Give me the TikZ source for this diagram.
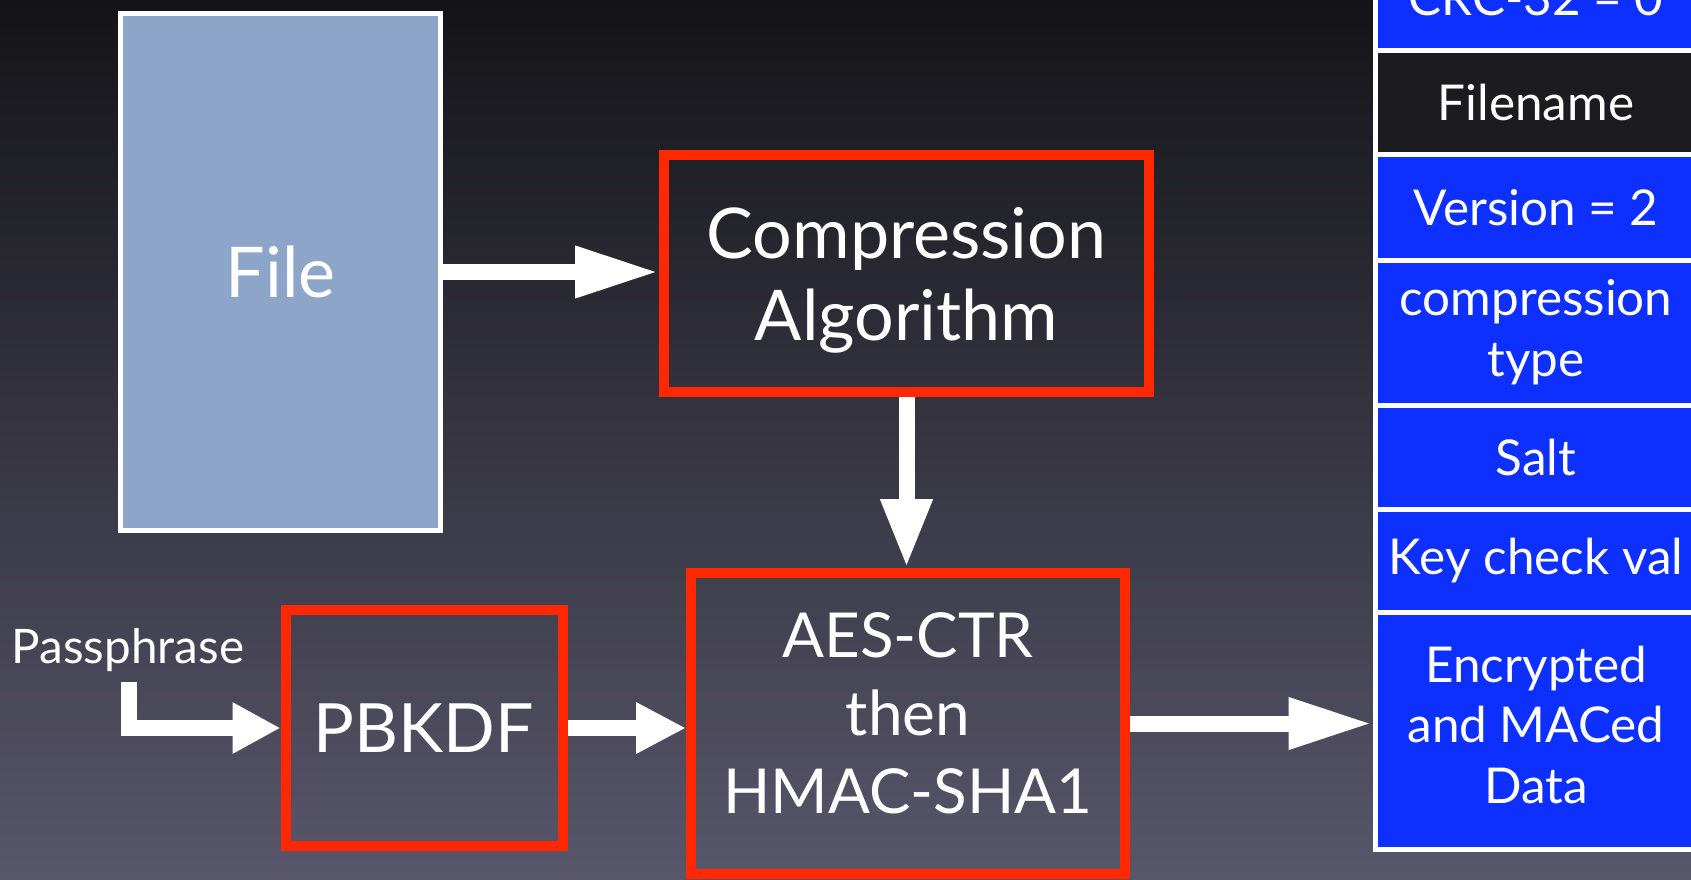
\documentclass[tikz,border=0pt]{standalone}
\usepackage{fontspec}
\setmainfont{Lato}
\usetikzlibrary{arrows.meta}

\definecolor{bgtop}{RGB}{20,20,24}
\definecolor{bgbot}{RGB}{88,86,106}
\definecolor{boxred}{RGB}{255,40,0}
\definecolor{cellblue}{RGB}{14,48,255}
\definecolor{celldark}{RGB}{28,28,32}
\definecolor{filesky}{RGB}{140,165,200}

\begin{document}
\begin{tikzpicture}[x=0.5pt, y=-0.5pt,
        every node/.style={text=white, align=center},
        stage/.style={draw=boxred, line width=5pt, font=\fontsize{35}{41}\selectfont},
        cell/.style={draw=white, line width=2.5pt, fill=cellblue, inner xsep=1pt, minimum width=161pt, font=\fontsize{24.7}{30.3}\selectfont},
        flow/.style={draw=white, line width=8pt, -{Triangle[length=#1, width=24pt]}},
        flow/.default=42pt]

        \useasboundingbox (0,0) rectangle (1691,879);
        \clip (0,0) rectangle (1691,879);
        \shade[top color=bgtop, bottom color=bgbot] (0,0) rectangle (1691,879);

        \node[draw=white, line width=2.5pt, fill=filesky, minimum width=160pt, minimum height=258.5pt, font=\fontsize{35}{41}\selectfont] (file) at (280.75,272) {File};
        \node[stage, text depth=0pt, minimum width=242.5pt, minimum height=118.5pt] (comp) at (906.5,273.5) {Compression\\Algorithm};
        \node[stage, minimum width=138.5pt, minimum height=118pt, font=\fontsize{34}{40}\selectfont] (pbkdf) at (424,728) {PBKDF};
        \node[stage, text depth=10.8pt, minimum width=217pt, minimum height=150.5pt, font=\fontsize{31}{39}\selectfont] (aes) at (908,723.5) {AES-CTR\\then\\HMAC-SHA1};

        \node[anchor=base, font=\fontsize{23.8}{28}\selectfont] (pass) at (128,663.5) {Passphrase};
        \coordinate (pstart) at (129,682);

        % record layout
        \node[cell, minimum height=52pt] (crc) at (1536,-2) {CRC-32 = 0};
        \node[cell, fill=celldark, minimum height=52.25pt] (fname) at (1536,102.25) {Filename};
        \node[cell, minimum height=52.75pt] (ver) at (1536,207.25) {Version = 2};
        \node[cell, minimum height=72.5pt] (ctype) at (1536,332.5) {compression\\type};
        \node[cell, minimum height=52pt] (salt) at (1536,457) {Salt};
        \node[cell, minimum height=51.75pt] (kcv) at (1536,560.75) {Key check val};
        \node[cell, text depth=6pt, minimum height=118.25pt] (enc) at (1536,730.75) {Encrypted\\and MACed\\Data};

        \draw[flow] (file.east) -- (file.east -| comp.west);
        \draw[flow=34.5pt] (comp.south) -- (comp.south |- aes.north);
        \draw[flow=24pt] (pstart) |- (pbkdf.west);
        \draw[flow=25pt] (pbkdf.east) -- (pbkdf.east -| aes.west);
        \draw[flow] (aes.east) -- (aes.east -| enc.west);

    \end{tikzpicture}
\end{document}
